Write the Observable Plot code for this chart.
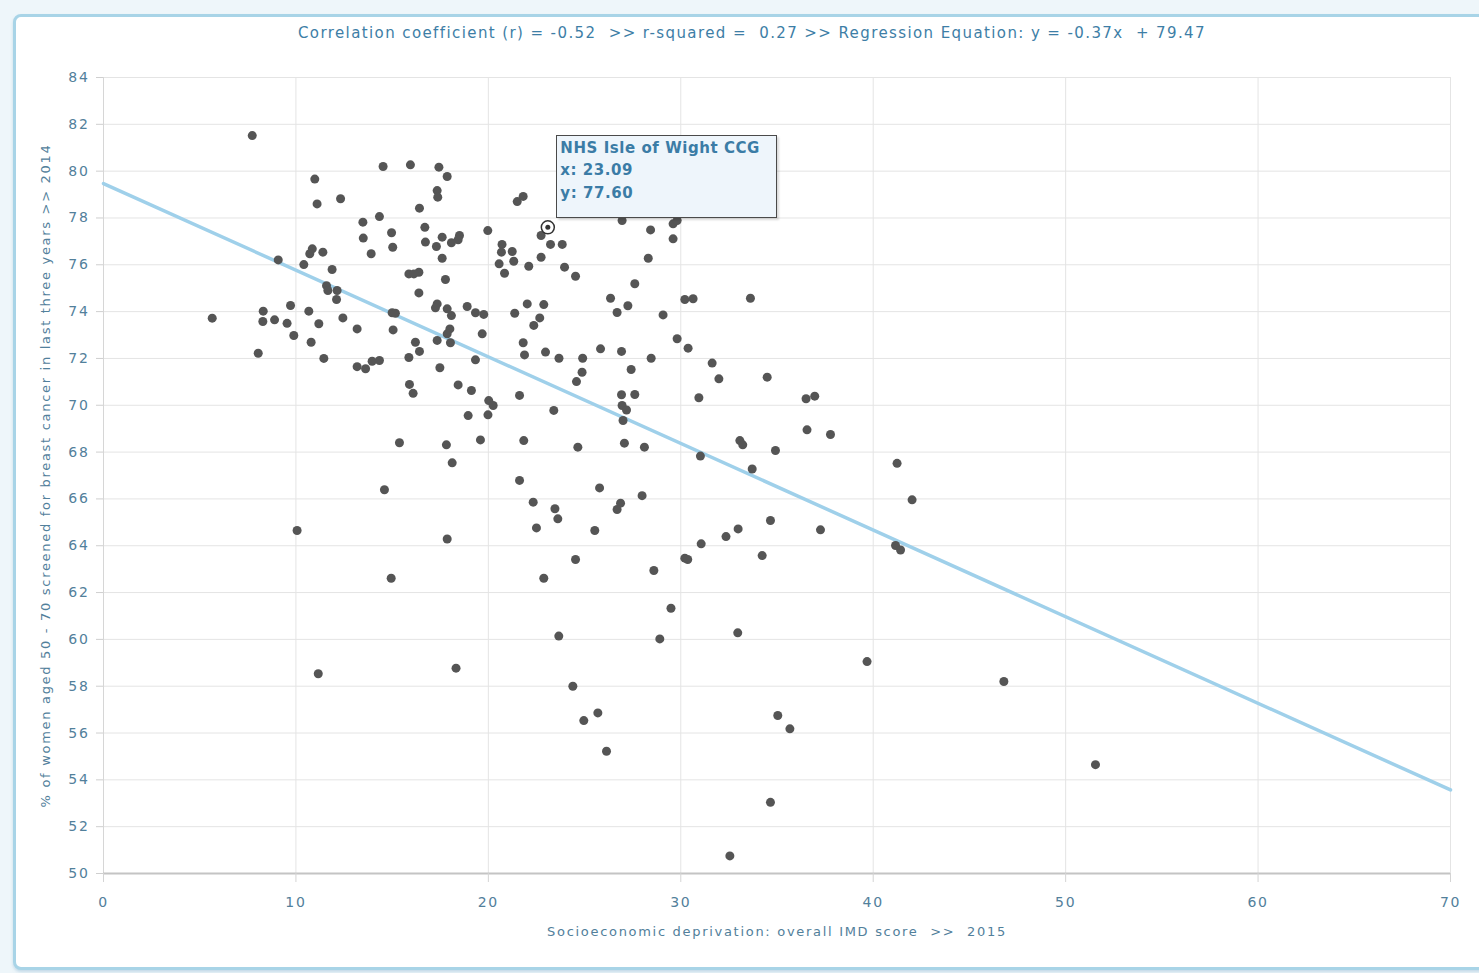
<!DOCTYPE html>
<html>
<head>
<meta charset="utf-8">
<script src="https://cdn.jsdelivr.net/npm/d3@7"></script>
<script src="https://cdn.jsdelivr.net/npm/@observablehq/plot@0.6"></script>
<style>
  html, body { margin: 0; padding: 0; background: #eef6fa; width: 1479px; height: 973px; overflow: hidden; font-family: "DejaVu Sans", Verdana, sans-serif; }
  #frame { position: absolute; left: 13px; top: 14px; width: 1475px; height: 950px; border: 3px solid #a8d4e7; border-radius: 8px; background: #fff; box-shadow: 0 2px 3px rgba(120,170,200,0.35); }
  #title { position: absolute; left: 13px; width: 1478px; top: 24px; text-align: center; font-size: 15px; letter-spacing: 1.4px; color: #3d7ea6; white-space: pre; }
  #chart { position: absolute; left: 0; top: 0; }
  #chart svg { white-space: pre; overflow: visible; }
  #tip { position: absolute; box-sizing: border-box; border: 1.5px solid #4a4a4a; background: #eef5fb; color: #3b7ca6; font-weight: bold; font-size: 15px; letter-spacing: 0.55px; line-height: 22.5px; padding: 1px 0 0 3px; box-shadow: 2px 2px 2px rgba(0,0,0,0.15); white-space: pre; }
</style>
</head>
<body>
<div id="frame"></div>
<div id="title"></div>
<div id="chart"></div>
<script>
const titleText = "Correlation coefficient (r) = -0.52  >> r-squared =  0.27 >> Regression Equation: y = -0.37x  + 79.47";
const xLabel = "Socioeconomic deprivation: overall IMD score  >>  2015";
const yLabel = "% of women aged 50 - 70 screened for breast cancer in last three years >> 2014";
const xTicks = [0, 10, 20, 30, 40, 50, 60, 70];
const yTicks = [50, 52, 54, 56, 58, 60, 62, 64, 66, 68, 70, 72, 74, 76, 78, 80, 82, 84];
const regSlope = -0.37;
const regIntercept = 79.47;
const highlightName = "NHS Isle of Wight CCG";
const highlightX = 23.09;
const highlightY = 77.60;

const imdScore = [
  7.73, 14.53, 15.95, 17.43, 17.86, 10.98, 17.34, 17.37, 12.32, 11.1,
  16.42, 13.48, 14.34, 14.97, 16.7, 13.5, 15.03, 13.91, 16.73, 17.6,
  17.3, 17.6, 17.77, 9.08, 10.41, 10.85, 10.72, 11.4, 11.88, 11.59,
  11.66, 12.14, 12.11, 15.87, 16.39, 16.13, 16.39, 17.34, 17.25, 17.86,
  8.3, 9.72, 10.67, 5.65, 8.28, 8.89, 9.54, 11.19, 12.44, 13.18,
  15.0, 15.17, 15.05, 9.89, 10.79, 8.04, 11.45, 16.21, 16.42, 15.87,
  17.34, 17.48, 13.18, 13.62, 13.96, 14.34, 15.9, 16.09, 21.5, 21.81,
  23.09, 18.5, 18.43, 18.08, 19.97, 20.71, 20.68, 21.24, 21.32, 20.56,
  20.84, 22.1, 22.74, 23.23, 23.84, 22.74, 23.96, 24.53, 18.08, 18.0,
  17.86, 18.03, 18.9, 19.33, 19.76, 19.68, 21.37, 22.02, 22.88, 22.67,
  22.36, 21.81, 21.88, 22.97, 23.67, 24.9, 24.87, 24.58, 19.33, 18.43,
  19.12, 20.02, 20.25, 21.62, 26.35, 26.69, 27.25, 27.61, 28.31, 28.43,
  26.95, 29.6, 29.6, 29.81, 29.08, 25.83, 26.92, 28.46, 29.81, 30.38,
  27.42, 30.21, 30.64, 26.92, 27.61, 33.62, 31.63, 31.98, 30.94, 34.49,
  36.51, 36.96, 36.56, 37.78, 28.11, 31.02, 33.07, 33.22, 34.92, 33.71,
  27.99, 41.24, 42.02, 34.66, 37.26, 32.98, 32.35, 31.06, 41.16, 41.42,
  30.21, 30.36, 34.23, 28.6, 18.95, 19.98, 23.4, 26.95, 27.18, 27.0,
  17.82, 18.12, 19.59, 21.84, 24.65, 27.07, 21.62, 25.78, 22.33, 23.46,
  23.61, 26.87, 26.69, 22.5, 25.53, 17.86, 24.53, 22.88, 29.49, 23.66,
  28.91, 18.32, 24.39, 32.96, 24.96, 25.69, 26.14, 35.04, 35.67, 34.66,
  32.55, 39.68, 46.79, 51.55, 15.38, 14.6, 10.06, 14.95, 11.16
];
const screenedPct = [
  81.52, 80.2, 80.27, 80.17, 79.77, 79.66, 79.17, 78.89, 78.82, 78.6,
  78.42, 77.82, 78.06, 77.37, 77.6, 77.14, 76.75, 76.47, 76.97, 77.18,
  76.78, 76.28, 75.37, 76.21, 76.01, 76.68, 76.47, 76.54, 75.8, 75.11,
  74.9, 74.9, 74.52, 75.61, 75.68, 75.61, 74.8, 74.33, 74.16, 74.12,
  74.02, 74.26, 74.02, 73.72, 73.58, 73.65, 73.5, 73.48, 73.73, 73.26,
  73.95, 73.93, 73.22, 72.98, 72.69, 72.22, 72.0, 72.69, 72.3, 72.04,
  72.77, 71.6, 71.65, 71.56, 71.88, 71.91, 70.89, 70.51, 78.7, 78.92,
  77.60, 77.25, 77.07, 76.94, 77.46, 76.87, 76.54, 76.57, 76.15, 76.04,
  75.64, 75.94, 77.25, 76.87, 76.87, 76.32, 75.9, 75.51, 73.83, 73.26,
  73.05, 72.67, 74.22, 73.95, 73.88, 73.05, 73.93, 74.33, 74.3, 73.73,
  73.41, 72.67, 72.15, 72.27, 72.01, 72.01, 71.41, 71.01, 71.94, 70.87,
  70.63, 70.2, 69.99, 70.42, 74.57, 73.96, 74.25, 75.19, 76.28, 77.49,
  77.89, 77.11, 77.75, 77.89, 73.86, 72.41, 72.3, 72.01, 72.84, 72.44,
  71.53, 74.52, 74.55, 70.45, 70.46, 74.57, 71.8, 71.13, 70.32, 71.2,
  70.28, 70.39, 68.95, 68.75, 68.21, 67.83, 68.49, 68.31, 68.07, 67.28,
  66.14, 67.52, 65.96, 65.08, 64.68, 64.72, 64.39, 64.08, 64.01, 63.82,
  63.47, 63.41, 63.58, 62.94, 69.56, 69.59, 69.78, 69.99, 69.8, 69.35,
  68.31, 67.54, 68.52, 68.49, 68.21, 68.38, 66.79, 66.47, 65.86, 65.58,
  65.15, 65.82, 65.55, 64.76, 64.65, 64.29, 63.41, 62.61, 61.33, 60.14,
  60.02, 58.77, 58.0, 60.28, 56.53, 56.86, 55.22, 56.75, 56.18, 53.04,
  50.75, 59.05, 58.2, 54.65, 68.4, 66.39, 64.65, 62.61, 58.53
];

const points = imdScore.map((x, i) => ({x, y: screenedPct[i]}));
const regLine = [xTicks[0], xTicks[xTicks.length - 1]].map(x => ({x, y: regSlope * x + regIntercept}));
const highlight = [{x: highlightX, y: highlightY}];

document.getElementById("title").textContent = titleText;

const chart = Plot.plot({
  width: 1479,
  height: 960,
  marginTop: 77,
  marginBottom: 87,
  marginLeft: 103,
  marginRight: 29,
  style: {fontFamily: "DejaVu Sans, Verdana, sans-serif", fontSize: "13px", letterSpacing: "1.7px", background: "transparent", color: "#52809b"},
  x: {domain: [0, 70]},
  y: {domain: [50, 84]},
  marks: [
    Plot.gridX(xTicks, {stroke: "#e4e4e4", strokeOpacity: 1}),
    Plot.gridY(yTicks, {stroke: "#e4e4e4", strokeOpacity: 1}),
    Plot.ruleX([0], {stroke: "#d6d6d6"}),
    Plot.ruleY([50], {stroke: "#c4c4c4", strokeWidth: 2}),
    Plot.axisX(xTicks, {tickSize: 9, tickPadding: 15, stroke: "#d4d4d4", fill: "#52809b", fontSize: 14,
      label: null, tickFormat: d => String(d)}),
    Plot.axisX({ticks: [], tickSize: 0, fill: "#52809b", fontSize: 13,
      label: xLabel, labelAnchor: "center", labelOffset: 62, labelArrow: "none"}),
    Plot.axisY(yTicks, {tickSize: 7, tickPadding: 7, stroke: "#cfcfcf", fill: "#52809b", fontSize: 14,
      label: null, tickFormat: d => String(d)}),
    Plot.axisY({ticks: [], tickSize: 0, fill: "#52809b", fontSize: 13,
      label: yLabel, labelAnchor: "center", labelOffset: 63, labelArrow: "none"}),
    Plot.line(regLine, {x: "x", y: "y", stroke: "#9fd0ea", strokeWidth: 3.5}),
    Plot.dot(points, {x: "x", y: "y", r: 4.5, fill: "#555555"}),
    Plot.dot(highlight, {x: "x", y: "y", r: 6.5, fill: "#ffffff", stroke: "#333333", strokeWidth: 1.5}),
    Plot.dot(highlight, {x: "x", y: "y", r: 2.5, fill: "#333333"})
  ]
});
document.getElementById("chart").appendChild(chart);

const sx = chart.scale("x"), sy = chart.scale("y");
const px = sx.apply(highlightX), py = sy.apply(highlightY);
const tip = document.createElement("div");
tip.id = "tip";
tip.style.left = (px + 9) + "px";
tip.style.top = (py - 92) + "px";
tip.style.width = "221px";
tip.style.height = "83px";
tip.textContent = highlightName + "\nx: " + highlightX.toFixed(2) + "\ny: " + highlightY.toFixed(2);
document.body.appendChild(tip);
</script>
</body>
</html>
